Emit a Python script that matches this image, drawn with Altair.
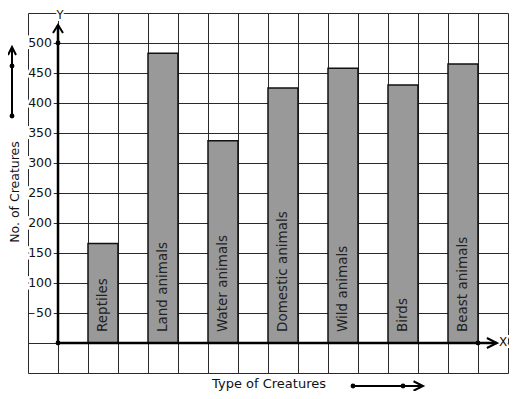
import altair as alt
import pandas as pd

# ---- data ----
categories = ["Reptiles", "Land animals", "Water animals", "Domestic animals",
              "Wild animals", "Birds", "Beast animals"]
counts = [166, 483, 337, 425, 458, 430, 465]
y_ticks = [50, 100, 150, 200, 250, 300, 350, 400, 450, 500]
y_title = "No. of Creatures"
x_title = "Type of Creatures"

bars = pd.DataFrame({"category": categories, "count": counts})
bars["x0"] = [1 + 2 * i for i in range(len(categories))]
bars["x1"] = bars["x0"] + 1
bars["xm"] = bars["x0"] + 0.5
bars["zero"] = 0

ticks = pd.DataFrame({"value": y_ticks, "label": [str(v) for v in y_ticks]})
ticks["x"] = 0

FONT = "DejaVu Sans"
xs = alt.Scale(domain=[-1, 15], nice=False, zero=False)
ys = alt.Scale(domain=[-50, 550], nice=False, zero=False)

x_axis = alt.Axis(values=list(range(-1, 16)), tickCount=40, grid=True, gridColor="#2a2a2a",
                  gridWidth=1, gridOpacity=1, labels=False, ticks=False,
                  domain=False, title=None)
y_axis = alt.Axis(values=list(range(-50, 551, 50)), tickCount=40, grid=True, gridColor="#2a2a2a",
                  gridWidth=1, gridOpacity=1, labels=False, ticks=False,
                  domain=False, title=None)

one = pd.DataFrame({"a": [0]})

bar_layer = alt.Chart(bars).mark_bar(fill="#999999", stroke="#111111", strokeWidth=1.5).encode(
    x=alt.X("x0:Q", scale=xs, axis=x_axis),
    x2="x1:Q",
    y=alt.Y("count:Q", scale=ys, axis=y_axis),
    y2="zero:Q",
)

bar_text = alt.Chart(bars).mark_text(angle=270, align="left", baseline="middle", dx=11,
                                     font=FONT, fontSize=13.5, color="#222222").encode(
    x=alt.X("xm:Q", scale=xs),
    y=alt.Y("zero:Q", scale=ys),
    text="category:N",
)

tick_halo = alt.Chart(ticks).mark_text(align="right", baseline="middle", dx=-6, font=FONT,
                                       fontSize=12.5, fill="white", stroke="white",
                                       strokeWidth=5).encode(
    x=alt.X("x:Q", scale=xs), y=alt.Y("value:Q", scale=ys), text="label:N")
tick_text = alt.Chart(ticks).mark_text(align="right", baseline="middle", dx=-6, font=FONT,
                                       fontSize=12.5, color="#111111").encode(
    x=alt.X("x:Q", scale=xs), y=alt.Y("value:Q", scale=ys), text="label:N")

# axes
axis_y_df = pd.DataFrame({"x": [0], "y0": [0], "y1": [530]})
axis_x_df = pd.DataFrame({"y": [0], "x0": [0], "x1": [14.63]})
y_axis_line = alt.Chart(axis_y_df).mark_rule(color="black", strokeWidth=2.5).encode(
    x=alt.X("x:Q", scale=xs), y=alt.Y("y0:Q", scale=ys), y2="y1:Q")
x_axis_line = alt.Chart(axis_x_df).mark_rule(color="black", strokeWidth=2.5).encode(
    y=alt.Y("y:Q", scale=ys), x=alt.X("x0:Q", scale=xs), x2="x1:Q")

up_path = "M-1,1.6L0,0L1,1.6"
right_path = "M-2,-1L0,0L-2,1"
y_arrow = alt.Chart(axis_y_df).mark_point(shape=up_path, filled=False, stroke="black",
                                           strokeWidth=2, size=100, opacity=1).encode(
    x=alt.X("x:Q", scale=xs), y=alt.Y("y1:Q", scale=ys))
x_arrow = alt.Chart(axis_x_df).mark_point(shape=right_path, filled=False, stroke="black",
                                           strokeWidth=2, size=100, opacity=1).encode(
    x=alt.X("x1:Q", scale=xs), y=alt.Y("y:Q", scale=ys))

dots_df = pd.DataFrame({"x": [0, 0, 14], "y": [500, 0, 0]})
dots = alt.Chart(dots_df).mark_circle(color="black", size=24, opacity=1).encode(
    x=alt.X("x:Q", scale=xs), y=alt.Y("y:Q", scale=ys))


def pdot(px, py):
    return alt.Chart(one).mark_circle(color="black", size=24, opacity=1).encode(
        x=alt.value(px), y=alt.value(py))


def ptext(txt, px, py, size=13, angle=0, halo=False, baseline="middle"):
    layers = []
    if halo:
        layers.append(alt.Chart(one).mark_text(text=txt, font=FONT, fontSize=size, angle=angle,
                                               align="center", baseline=baseline, fill="white",
                                               stroke="white", strokeWidth=4).encode(
            x=alt.value(px), y=alt.value(py)))
    layers.append(alt.Chart(one).mark_text(text=txt, font=FONT, fontSize=size, angle=angle,
                                           align="center", baseline=baseline,
                                           color="#111111").encode(
        x=alt.value(px), y=alt.value(py)))
    return layers


# left decorative arrow
left_line = alt.Chart(one).mark_rule(color="black", strokeWidth=2).encode(
    x=alt.value(-16), y=alt.value(35), y2=alt.value(103))
left_head = alt.Chart(one).mark_point(shape="M-1,2L0,0L1,2", filled=False, stroke="black",
                                      strokeWidth=2, size=64, opacity=1).encode(
    x=alt.value(-16), y=alt.value(34))

# bottom decorative arrow
bot_line = alt.Chart(one).mark_rule(color="black", strokeWidth=2).encode(
    x=alt.value(325), x2=alt.value(394), y=alt.value(373))
bot_head = alt.Chart(one).mark_point(shape="M-2,-1L0,0L-2,1", filled=False, stroke="black",
                                     strokeWidth=2, size=90, opacity=1).encode(
    x=alt.value(395), y=alt.value(373))

layers = [bar_layer, bar_text, tick_halo, tick_text, y_axis_line, x_axis_line,
          y_arrow, x_arrow, dots, left_line, left_head, pdot(-16, 53), pdot(-16, 103),
          bot_line, bot_head, pdot(325, 373), pdot(375, 373)]
layers += ptext("Y", 32, 5.5, size=11.5, halo=True, baseline="alphabetic")
layers += ptext("X", 475, 329, size=12, halo=True)
layers += ptext(y_title, -13.5, 179, size=12.5, angle=270)
layers += ptext(x_title, 241, 371, size=13)

chart = alt.layer(*layers).properties(
    width=480, height=360,
    autosize=alt.AutoSizeParams(type="none"),
    padding={"left": 20, "top": 5, "right": 1, "bottom": 18},
).configure_view(stroke=None).configure(background="white")

chart.save("out.html", embed_options={"renderer": "svg", "actions": False})
